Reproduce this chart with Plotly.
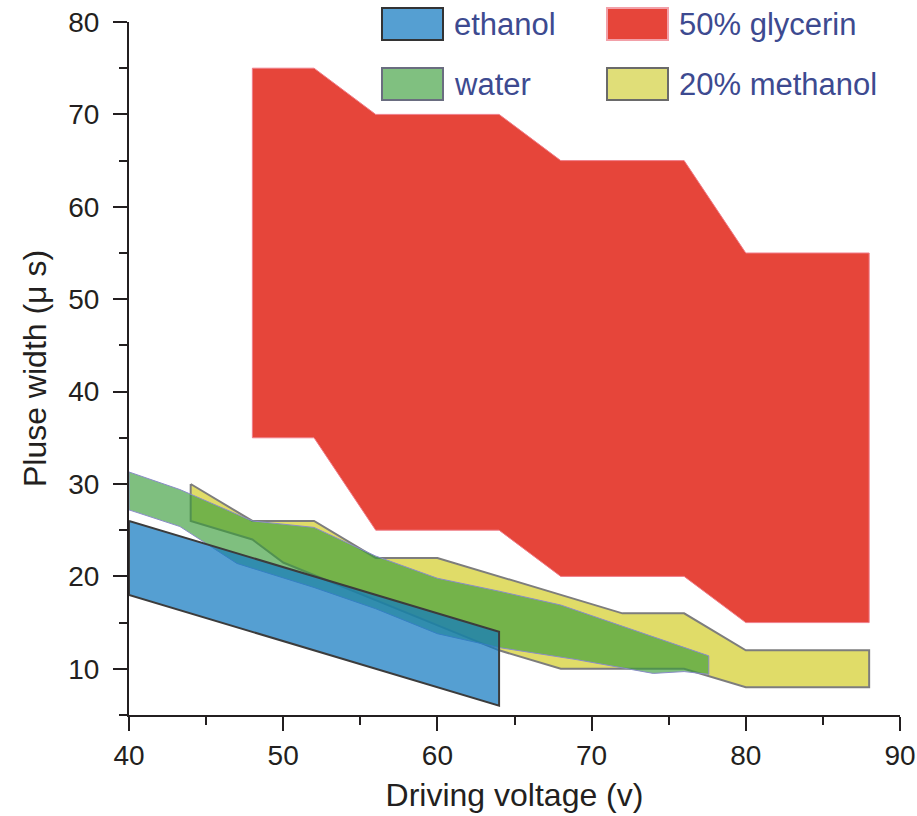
import plotly.graph_objects as go

# ---------------- data (driving voltage in V, pulse width in µs) ----------------
ethanol_top_v = [40, 64]
ethanol_top_w = [26, 14]
ethanol_bot_v = [40, 64]
ethanol_bot_w = [18, 6]

glycerin_top_v = [48, 52, 56, 64, 68, 76, 80, 88]
glycerin_top_w = [75, 75, 70, 70, 65, 65, 55, 55]
glycerin_bot_v = [48, 52, 56, 64, 68, 76, 80, 88]
glycerin_bot_w = [35, 35, 25, 25, 20, 20, 15, 15]

water_top_v = [40, 43.3, 48, 52, 56, 60, 64, 68, 77.6]
water_top_w = [31.3, 29.4, 26, 25.3, 22.2, 19.8, 18.4, 16.9, 11.4]
water_bot_v = [40, 43.3, 47, 52, 56, 60, 64, 69, 74, 76, 77.6]
water_bot_w = [27.2, 25.4, 21.4, 18.8, 16.5, 13.8, 12.3, 11.0, 9.5, 9.7, 9.4]

methanol_top_v = [44, 48, 52, 56, 60, 72, 76, 80, 88]
methanol_top_w = [30, 26, 26, 22, 22, 16, 16, 12, 12]
methanol_bot_v = [44, 48, 50, 64, 68, 76, 80, 88]
methanol_bot_w = [26, 24, 21.5, 12, 10, 10, 8, 8]

legend_labels = ["ethanol", "50% glycerin", "water", "20% methanol"]
x_ticks = [40, 50, 60, 70, 80, 90]
y_ticks = [10, 20, 30, 40, 50, 60, 70, 80]

FONT = "Liberation Sans, Arial, Helvetica, sans-serif"


def band(top_v, top_w, bot_v, bot_w):
    xs = list(top_v) + list(reversed(bot_v)) + [top_v[0]]
    ys = list(top_w) + list(reversed(bot_w)) + [top_w[0]]
    return xs, ys


styles = {
    "50% glycerin": dict(fill="#e6453a", line="#f07f8a", width=1),
    "20% methanol": dict(fill="#e0dc68", line="#7d7d7d", width=2),
    "water": dict(fill="rgba(58,157,58,0.65)", line="#8a8cc8", width=1),
    "ethanol": dict(fill="rgba(20,122,192,0.72)", line="#3c3c3c", width=2),
}

series = [
    ("50% glycerin", glycerin_top_v, glycerin_top_w, glycerin_bot_v, glycerin_bot_w),
    ("20% methanol", methanol_top_v, methanol_top_w, methanol_bot_v, methanol_bot_w),
    ("water", water_top_v, water_top_w, water_bot_v, water_bot_w),
    ("ethanol", ethanol_top_v, ethanol_top_w, ethanol_bot_v, ethanol_bot_w),
]

fig = go.Figure()
for name, tv, tw, bv, bw in series:
    xs, ys = band(tv, tw, bv, bw)
    st = styles[name]
    fig.add_trace(go.Scatter(
        x=xs, y=ys, mode="lines", fill="toself", name=name,
        fillcolor=st["fill"], line=dict(color=st["line"], width=st["width"]),
        showlegend=False, hoverinfo="name",
    ))

# --------------- manual legend (paper coordinates from pixel layout) ---------------
L, R, T, B = 129, 17, 22, 101
W, H = 917, 816
pw, ph = W - L - R, H - T - B


def px_x(px):
    return (px - L) / pw


def px_y(py):
    return (H - B - py) / ph


legend_box_fill = {
    "ethanol": ("#559fd2", "#333333"),
    "50% glycerin": ("#e6453a", "#f2a0a8"),
    "water": ("#80c080", "#6a6d80"),
    "20% methanol": ("#e0de78", "#6a6a6a"),
}
legend_pos = {
    "ethanol": (382, 8),
    "50% glycerin": (607, 8),
    "water": (382, 68),
    "20% methanol": (607, 68),
}
shapes = []
annotations = []
for lab in legend_labels:
    bx, by = legend_pos[lab]
    fc, lc = legend_box_fill[lab]
    shapes.append(dict(type="rect", xref="paper", yref="paper",
                       x0=px_x(bx), x1=px_x(bx + 61), y0=px_y(by + 32), y1=px_y(by),
                       fillcolor=fc, line=dict(color=lc, width=2)))
    annotations.append(dict(xref="paper", yref="paper", x=px_x(bx + 70), y=px_y(by + 16),
                            xanchor="left", yanchor="middle", showarrow=False,
                            text=lab, font=dict(family=FONT, size=31, color="#3d4a90")))

axis_common = dict(
    showline=True, linewidth=2, linecolor="#231f20", mirror=False,
    showgrid=False, zeroline=False, automargin=False,
    ticks="outside", ticklen=14, tickwidth=2, tickcolor="#231f20",
    tickfont=dict(family=FONT, size=28, color="#231f20"),
)

fig.update_layout(
    width=W, height=H,
    margin=dict(l=L, r=R, t=T, b=B, pad=0, autoexpand=False),
    paper_bgcolor="white", plot_bgcolor="white",
    font=dict(family=FONT, color="#231f20"),
    shapes=shapes, annotations=annotations,
    xaxis=dict(range=[40, 90], tickvals=x_ticks, ticklabelstandoff=0,
               minor=dict(ticks="outside", ticklen=8, tickwidth=2, tickcolor="#231f20", dtick=5, tick0=0),
               title=dict(text="Driving voltage (v)", font=dict(family=FONT, size=32, color="#231f20"), standoff=14),
               **axis_common),
    yaxis=dict(range=[5, 80], tickvals=y_ticks, ticklabelstandoff=8,
               minor=dict(ticks="outside", ticklen=8, tickwidth=2, tickcolor="#231f20", dtick=5, tick0=0),
               title=dict(text="Pluse width (μ s)", font=dict(family=FONT, size=32, color="#231f20"), standoff=12),
               **axis_common),
)

fig.write_html("out.html")
